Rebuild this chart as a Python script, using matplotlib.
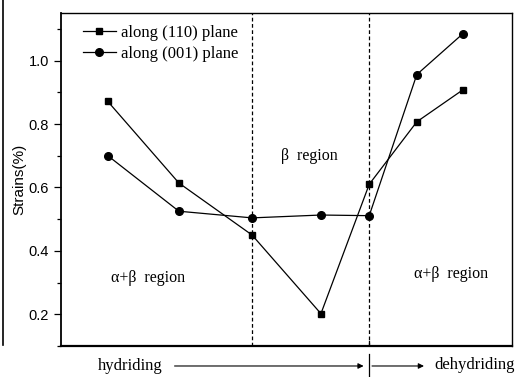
import matplotlib.pyplot as plt
from matplotlib.lines import Line2D
from matplotlib.ticker import MultipleLocator

# step positions along the hydriding / dehydriding sequence
steps = [1.0, 2.0, 3.03, 4.0, 4.68, 5.35, 6.0]
strain_110 = [0.871, 0.614, 0.450, 0.202, 0.610, 0.807, 0.908]
strain_001 = [0.700, 0.525, 0.504, 0.513, 0.511, 0.956, 1.085]
boundaries = [3.03, 4.68]

serif = 'Liberation Serif'
sans = 'Liberation Sans'

fig = plt.figure(figsize=(5.19, 3.77), dpi=100)
ax = fig.add_axes([0.1175, 0.0822, 0.869, 0.8833])

ax.plot(steps, strain_110, color='black', lw=0.9, marker='s', ms=4.5, label='along (110) plane')
ax.plot(steps, strain_001, color='black', lw=0.9, marker='o', ms=5.5, label='along (001) plane')

for xb in boundaries:
    ax.axvline(xb, color='black', lw=0.9, linestyle=(0, (3, 2)))

ax.set_xlim(0.34, 6.69)
ax.set_ylim(0.1, 1.15)
ax.set_xticks([])
ax.yaxis.set_major_locator(MultipleLocator(0.2))
ax.yaxis.set_minor_locator(MultipleLocator(0.1))
ax.tick_params(axis='y', which='major', direction='out', length=5, width=0.9, labelsize=10.5)
ax.tick_params(axis='y', which='minor', direction='out', length=3, width=0.9)
for lbl in ax.get_yticklabels():
    lbl.set_fontfamily(sans)
for sp in ax.spines.values():
    sp.set_linewidth(1.0)
ax.spines['bottom'].set_linewidth(1.6)
ax.spines['left'].set_linewidth(1.3)

ax.set_ylabel('Strains(%)', fontfamily=sans, fontsize=11, labelpad=2)

leg = ax.legend(loc='upper left', bbox_to_anchor=(0.022, 1.0), frameon=False,
                prop={'family': serif, 'size': 12}, handlelength=2.0,
                handletextpad=0.3, labelspacing=0.3, borderaxespad=0.3)

ax.text(3.84, 0.70, 'β  region', fontfamily=serif, fontsize=11.5, ha='center', va='center')
ax.text(1.57, 0.315, 'α+β  region', fontfamily=serif, fontsize=11.5, ha='center', va='center')
ax.text(5.83, 0.327, 'α+β  region', fontfamily=serif, fontsize=11.5, ha='center', va='center')

# hydriding / dehydriding arrows under the axis
ax.text(1.31, 0.037, 'hydriding', fontfamily=serif, fontsize=12, ha='center', va='center',
        clip_on=False)
ax.annotate('', xy=(4.64, 0.037), xytext=(1.9, 0.037), xycoords='data', annotation_clip=False,
            arrowprops=dict(arrowstyle='-|>', color='black', lw=0.8, mutation_scale=8))
ax.annotate('', xy=(5.49, 0.037), xytext=(4.68, 0.037), xycoords='data', annotation_clip=False,
            arrowprops=dict(arrowstyle='-|>', color='black', lw=0.8, mutation_scale=8))
ax.plot([4.68, 4.68], [-0.005, 0.075], color='black', lw=0.9, clip_on=False)
ax.plot([4.68, 4.68], [0.1, 0.115], color='black', lw=0.9)
ax.text(6.16, 0.04, 'dehydriding', fontfamily=serif, fontsize=12, ha='center', va='center',
        clip_on=False)

# scan border on the far left
fig.add_artist(Line2D([0.006, 0.006], [0.085, 1.0], color='black', lw=1.2))

fig.savefig('out.png', dpi=100)
